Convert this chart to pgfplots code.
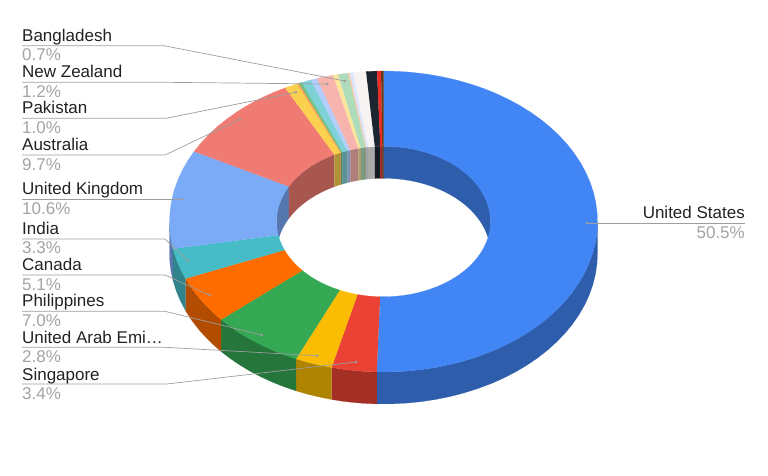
\documentclass[border=0pt]{standalone}
\usepackage{pgfplots}
\pgfplotsset{compat=1.18}
\usepackage{fontspec}
\setmainfont{Liberation Sans}
\definecolor{cA}{HTML}{4285F4}\definecolor{cB}{HTML}{EA4335}\definecolor{cC}{HTML}{FBBC04}
\definecolor{cD}{HTML}{34A853}\definecolor{cE}{HTML}{FF6D01}\definecolor{cF}{HTML}{46BDC6}
\definecolor{cG}{HTML}{7BAAF7}\definecolor{cH}{HTML}{F07B72}\definecolor{cI}{HTML}{FCD04F}
\definecolor{cJ}{HTML}{FF994D}\definecolor{cK}{HTML}{71C287}\definecolor{cL}{HTML}{7ED1D7}
\definecolor{cM}{HTML}{B3CEFB}\definecolor{cN}{HTML}{F7B4AE}\definecolor{cO}{HTML}{FDE49B}
\definecolor{cP}{HTML}{AEDCBA}\definecolor{cQ}{HTML}{FFC9A6}\definecolor{cR}{HTML}{D9E6FD}
\definecolor{cS}{HTML}{F6F3F2}\definecolor{cT}{HTML}{1B2530}\definecolor{cU}{HTML}{EE2A24}
\definecolor{cV}{HTML}{5E3A1E}
\definecolor{lead}{HTML}{9E9E9E}\definecolor{nametxt}{HTML}{222222}\definecolor{pcttxt}{HTML}{A3A3A3}
% shares (percent) / colour, clockwise from the top
\def\slices{50.5/cA,3.4/cB,2.8/cC,7.0/cD,5.1/cE,3.3/cF,10.6/cG,9.7/cH,1.0/cI,0.13/cJ,0.25/cK,0.72/cL,0.47/cM,1.24/cN,0.38/cO,0.76/cP,0.12/cQ,0.25/cR,0.98/cS,0.82/cT,0.30/cU,0.18/cV}
\newcommand\ArcPoly[7]{%
  \pgfmathtruncatemacro\Nst{max(1,ceil((#2-(#1))/4))}%
  \gdef\fw{}\gdef\bw{}%
  \foreach \i in {0,...,\Nst}{%
    \pgfmathsetmacro\ang{#1+(#2-(#1))*\i/\Nst}%
    \pgfmathsetmacro\xa{383.5+214*#3*sin(\ang)}%
    \pgfmathsetmacro\ya{221.5-150.5*#3*cos(\ang)+#4}%
    \pgfmathsetmacro\xb{383.5+214*#5*sin(\ang)}%
    \pgfmathsetmacro\yb{221.5-150.5*#5*cos(\ang)+#6}%
    \xdef\fw{\fw(\xa,\ya)}\xdef\bw{(\xb,\yb)\bw}%
  }%
  \edef\tmp{\noexpand\addplot[fill=#7,draw=#7,line width=0.15pt,mark=none,forget plot] coordinates {\fw\bw};}\tmp
}
\newcommand\fnt{\fontsize{17}{20}\selectfont}
\newcommand\Lbl[4]{\node[anchor=base west,inner sep=0pt,text=nametxt,font=\fnt] at (axis cs:22,#2) {#1};
  \node[anchor=base west,inner sep=0pt,text=pcttxt,font=\fnt] at (axis cs:22,#4) {#3};}
\begin{document}
\begin{tikzpicture}[x=1pt,y=1pt]
\path[use as bounding box] (0,0) rectangle (768,475);
\begin{axis}[at={(0,0)},anchor=south west,scale only axis,width=768pt,height=475pt,
  xmin=0,xmax=768,ymin=0,ymax=475,y dir=reverse,hide axis,clip=false]
% walls
\gdef\cum{0}
\foreach \s/\c in \slices {%
  \pgfmathsetmacro\aa{\cum}\pgfmathsetmacro\bb{\cum+3.6*\s}%
  \xdef\cumnext{\bb}%
  % outer front wall: 90..270
  \pgfmathsetmacro\lo{max(\aa,90)}\pgfmathsetmacro\hi{min(\bb,270)}%
  \pgfmathparse{\hi>\lo?1:0}\ifnum\pgfmathresult=1 \ArcPoly{\lo}{\hi}{1}{0}{1}{32}{\c!70!black}\fi
  % inner far wall: 0..90
  \pgfmathsetmacro\lo{max(\aa,0)}\pgfmathsetmacro\hi{min(\bb,90)}%
  \pgfmathparse{\hi>\lo?1:0}\ifnum\pgfmathresult=1 \ArcPoly{\lo}{\hi}{0.5}{0}{0.5}{32}{\c!70!black}\fi
  % inner far wall: 270..360
  \pgfmathsetmacro\lo{max(\aa,270)}\pgfmathsetmacro\hi{min(\bb,360)}%
  \pgfmathparse{\hi>\lo?1:0}\ifnum\pgfmathresult=1 \ArcPoly{\lo}{\hi}{0.5}{0}{0.5}{32}{\c!70!black}\fi
  \xdef\cum{\cumnext}%
}
% top faces
\gdef\cum{0}
\foreach \s/\c in \slices {%
  \pgfmathsetmacro\aa{\cum}\pgfmathsetmacro\bb{\cum+3.6*\s}%
  \xdef\cumnext{\bb}%
  \ArcPoly{\aa}{\bb}{1}{0}{0.5}{0}{\c}%
  \xdef\cum{\cumnext}%
}
% leaders
\pgfplotsset{leader/.style={draw=lead,line width=0.7pt,mark=none,forget plot}}
\addplot[leader] coordinates {(22,45.7)(164,45.7)(345,81)};
\addplot[leader] coordinates {(22,82.3)(164,82.3)(327,84)};
\addplot[leader] coordinates {(22,118.3)(166,118.3)(296,92.3)};
\addplot[leader] coordinates {(22,155)(165,155)(240,119.3)};
\addplot[leader] coordinates {(22,199)(182,199)};
\addplot[leader] coordinates {(22,239)(165,239)(188,260.7)};
\addplot[leader] coordinates {(22,275)(165,275)(210,295.3)};
\addplot[leader] coordinates {(22,311.3)(165,311.3)(262,335)};
\addplot[leader] coordinates {(22,347.3)(165,347.3)(317,355.7)};
\addplot[leader] coordinates {(22,384)(167,384)(356,362)};
\addplot[leader] coordinates {(587,223)(745,223)};
\addplot[only marks,mark=*,mark size=1.1pt,color=lead,forget plot] coordinates {(345,81)(327,84)(296,92.3)(240,119.3)(182,199)(188,260.7)(210,295.3)(262,335)(317,355.7)(356,362)(587,223)};
% labels
\Lbl{Bangladesh}{41.7}{0.7\%}{60.7}
\Lbl{New Zealand}{77.7}{1.2\%}{97}
\Lbl{Pakistan}{113.7}{1.0\%}{133.3}
\Lbl{Australia}{150}{9.7\%}{170}
\Lbl{United Kingdom}{194.3}{10.6\%}{214}
\Lbl{India}{234}{3.3\%}{253.3}
\Lbl{Canada}{270}{5.1\%}{290}
\Lbl{Philippines}{306.7}{7.0\%}{326}
\Lbl{United Arab Emi…}{343.3}{2.8\%}{362.7}
\Lbl{Singapore}{380}{3.4\%}{399.3}
\node[anchor=base east,inner sep=0pt,text=nametxt,font=\fnt] at (axis cs:745,218.3) {United States};
\node[anchor=base east,inner sep=0pt,text=pcttxt,font=\fnt] at (axis cs:745,238.3) {50.5\%};
\end{axis}
\end{tikzpicture}
\end{document}
